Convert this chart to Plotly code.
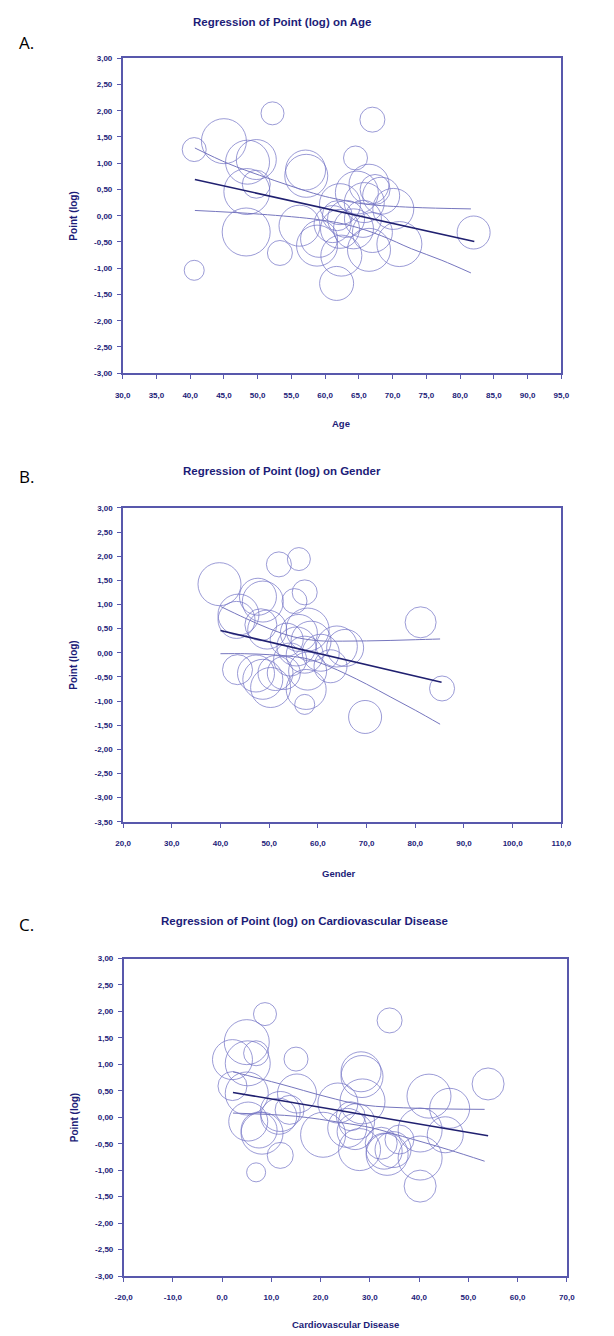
import plotly.graph_objects as go

# ---------------- data ----------------
# Panel A: Age
a_x = [40.6, 45.0, 52.2, 67.0, 64.5, 40.6, 61.7, 53.3, 48.3, 48.4, 48.5, 49.8, 49.8, 57.2, 57.1, 82.0,
       56.2, 58.8, 59.1, 62.4, 62.2, 66.5, 71.0, 70.1, 62.2, 64.7, 66.5, 67.4, 65.8, 65.6, 63.1, 61.1,
       64.2, 67.0, 68.3, 61.8]
a_y = [1.26, 1.42, 1.95, 1.83, 1.10, -1.04, -1.29, -0.71, -0.31, 0.46, 1.02, 1.07, 0.60, 0.76, 0.87, -0.32,
       -0.19, -0.57, -0.44, -0.76, -0.25, -0.65, -0.54, 0.13, 0.22, 0.44, 0.60, 0.50, 0.25, -0.06, -0.06, -0.16,
       -0.25, -0.32, 0.38, 0.00]
a_s = [24, 45, 23, 25, 24, 20, 34, 25, 48, 46, 44, 40, 28, 43, 40, 33,
       41, 41, 37, 41, 39, 43, 45, 41, 41, 43, 40, 30, 40, 37, 37, 37,
       40, 40, 37, 30]
a_fit_x = [40.7, 82.1]
a_fit_y = [0.69, -0.49]
a_up_x = [40.7, 45.7, 50.3, 54.8, 59.3, 62.0, 66.0, 72.8, 81.6]
a_up_y = [1.29, 0.99, 0.77, 0.57, 0.39, 0.31, 0.22, 0.16, 0.13]
a_lo_x = [40.7, 50.3, 59.3, 63.8, 68.3, 72.8, 77.3, 81.6]
a_lo_y = [0.10, 0.03, -0.08, -0.19, -0.38, -0.63, -0.85, -1.09]

# Panel B: Gender
b_x = [39.8, 52.0, 56.1, 57.3, 55.2, 48.7, 47.7, 43.7, 43.3, 48.3, 49.6, 81.1, 85.5, 69.7, 57.3, 43.5,
       47.3, 48.7, 50.3, 51.3, 54.3, 55.6, 56.1, 57.9, 58.6, 57.3, 57.9, 57.6, 60.6, 63.9, 65.6, 62.6,
       53.6, 53.0]
b_y = [1.42, 1.83, 1.94, 1.25, 1.07, 1.06, 1.16, 0.79, 0.68, 0.58, 0.48, 0.63, -0.74, -1.33, -1.07, -0.35,
       -0.43, -0.55, -0.72, -0.42, -0.14, 0.13, 0.41, 0.48, 0.24, -0.04, -0.38, -0.76, 0.00, 0.13, 0.10, -0.28,
       0.27, -0.42]
b_s = [43, 25, 23, 25, 25, 41, 37, 41, 37, 32, 39, 31, 25, 33, 20, 30,
       37, 40, 40, 35, 33, 39, 37, 43, 40, 37, 38, 40, 37, 41, 37, 33,
       33, 33]
b_fit_x = [40.0, 85.4]
b_fit_y = [0.46, -0.61]
b_up_x = [40.0, 45.0, 50.0, 55.0, 60.0, 65.0, 70.0, 75.0, 80.0, 85.1]
b_up_y = [0.96, 0.72, 0.50, 0.33, 0.25, 0.24, 0.245, 0.255, 0.27, 0.285]
b_lo_x = [40.0, 45.0, 50.0, 55.0, 58.0, 62.0, 66.0, 70.0, 75.0, 80.0, 85.1]
b_lo_y = [-0.02, -0.02, -0.04, -0.08, -0.13, -0.27, -0.45, -0.65, -0.92, -1.19, -1.48]

# Panel C: Cardiovascular Disease
c_x = [8.7, 34.0, 15.0, 6.9, 40.2, 11.8, 54.0, 5.0, 2.1, 6.9, 5.2, 2.1, 5.0, 15.2, 28.2, 28.4,
       28.5, 23.5, 42.0, 46.2, 45.3, 40.2, 40.2, 5.3, 7.5, 8.1, 11.8, 11.5, 13.7, 20.5, 25.4, 27.0,
       27.9, 27.3, 32.3, 32.9, 33.5, 34.7, 36.0, 26.1]
c_y = [1.95, 1.83, 1.10, -1.04, -1.30, -0.72, 0.63, 1.42, 1.09, 1.21, 1.02, 0.59, 0.45, 0.45, 0.86, 0.77,
       0.30, 0.27, 0.40, 0.17, -0.33, -0.24, -0.77, -0.08, -0.24, -0.30, 0.11, 0.02, 0.14, -0.33, -0.20, -0.27,
       -0.61, -0.08, -0.49, -0.64, -0.70, -0.61, -0.42, 0.02]
c_s = [23, 25, 24, 19, 32, 26, 32, 45, 40, 25, 45, 29, 43, 39, 40, 42,
       45, 40, 44, 40, 36, 44, 44, 39, 36, 42, 40, 36, 29, 45, 39, 36,
       42, 36, 32, 36, 42, 36, 29, 29]
c_fit_x = [2.2, 54.0]
c_fit_y = [0.47, -0.35]
c_up_x = [2.2, 11.8, 21.1, 28.5, 39.7, 53.3]
c_up_y = [0.86, 0.63, 0.39, 0.235, 0.17, 0.15]
c_lo_x = [2.2, 14.9, 24.2, 30.4, 36.6, 45.9, 53.3]
c_lo_y = [0.08, 0.02, -0.10, -0.20, -0.36, -0.61, -0.83]

# tick values / labels
a_xticks = [30, 35, 40, 45, 50, 55, 60, 65, 70, 75, 80, 85, 90, 95]
a_xtext = ["30,0", "35,0", "40,0", "45,0", "50,0", "55,0", "60,0", "65,0", "70,0", "75,0", "80,0", "85,0", "90,0", "95,0"]
b_xticks = [20, 30, 40, 50, 60, 70, 80, 90, 100, 110]
b_xtext = ["20,0", "30,0", "40,0", "50,0", "60,0", "70,0", "80,0", "90,0", "100,0", "110,0"]
c_xticks = [-20, -10, 0, 10, 20, 30, 40, 50, 60, 70]
c_xtext = ["-20,0", "-10,0", "0,0", "10,0", "20,0", "30,0", "40,0", "50,0", "60,0", "70,0"]
y_ticks = [3, 2.5, 2, 1.5, 1, 0.5, 0, -0.5, -1, -1.5, -2, -2.5, -3]
y_text = ["3,00", "2,50", "2,00", "1,50", "1,00", "0,50", "0,00", "-0,50", "-1,00", "-1,50", "-2,00", "-2,50", "-3,00"]
b_yticks = y_ticks + [-3.5]
b_ytext = y_text + ["-3,50"]

titles = ["Regression of Point (log) on Age", "Regression of Point (log) on Gender",
          "Regression of Point (log) on Cardiovascular Disease"]
xlabels = ["Age", "Gender", "Cardiovascular Disease"]
letters = ["A.", "B.", "C."]

# ---------------- styling ----------------
W, H = 614, 1336
CIRC = "rgb(112,112,196)"
BAND = "rgb(118,118,190)"
FIT = "rgb(32,32,112)"
AXC = "rgb(88,88,172)"
TXT = "rgb(28,28,120)"
FONT = "Liberation Sans, Arial, sans-serif"

fig = go.Figure()

panels = [
    dict(x=a_x, y=a_y, s=a_s, fx=a_fit_x, fy=a_fit_y, ux=a_up_x, uy=a_up_y, lx=a_lo_x, ly=a_lo_y,
         xr=[30, 95], xt=a_xticks, xtt=a_xtext, yr=[-3, 3], yt=y_ticks, ytt=y_text,
         box=(117.3, 570.0, 54.6, 371.7), title=(282, 18), xl=(343, 422), let=(8, 39)),
    dict(x=b_x, y=b_y, s=b_s, fx=b_fit_x, fy=b_fit_y, ux=b_up_x, uy=b_up_y, lx=b_lo_x, ly=b_lo_y,
         xr=[20, 110], xt=b_xticks, xtt=b_xtext, yr=[-3.5, 3], yt=b_yticks, ytt=b_ytext,
         box=(117.7, 570.0, 507.3, 823.3), title=(282, 470.5), xl=(341, 875), let=(8, 476)),
    dict(x=c_x, y=c_y, s=c_s, fx=c_fit_x, fy=c_fit_y, ux=c_up_x, uy=c_up_y, lx=c_lo_x, ly=c_lo_y,
         xr=[-20, 70], xt=c_xticks, xtt=c_xtext, yr=[-3, 3], yt=y_ticks, ytt=y_text,
         box=(118.3, 575.7, 961.0, 1280.7), title=(305, 923.3), xl=(347, 1329), let=(8, 927)),
]

annotations = []
for i, p in enumerate(panels):
    n = "" if i == 0 else str(i + 1)
    xa, ya = "x" + n, "y" + n
    fig.add_trace(go.Scatter(x=p["x"], y=p["y"], mode="markers", xaxis=xa, yaxis=ya,
                             marker=dict(symbol="circle-open", size=p["s"], color=CIRC,
                                         line=dict(width=1, color=CIRC)),
                             showlegend=False, hoverinfo="skip"))
    fig.add_trace(go.Scatter(x=p["ux"], y=p["uy"], mode="lines", xaxis=xa, yaxis=ya,
                             line=dict(color=BAND, width=1, shape="spline"), showlegend=False))
    fig.add_trace(go.Scatter(x=p["lx"], y=p["ly"], mode="lines", xaxis=xa, yaxis=ya,
                             line=dict(color=BAND, width=1, shape="spline"), showlegend=False))
    fig.add_trace(go.Scatter(x=p["fx"], y=p["fy"], mode="lines", xaxis=xa, yaxis=ya,
                             line=dict(color=FIT, width=1.6), showlegend=False))

    x0, x1, y0, y1 = p["box"]
    common = dict(showline=True, linecolor=AXC, linewidth=1.5, mirror=True, showgrid=False,
                  zeroline=False, ticks="outside", ticklen=4, tickwidth=1, tickcolor=AXC,
                  tickfont=dict(family=FONT, size=8, color=TXT, weight="bold"))
    fig.update_layout(**{
        "xaxis" + n: dict(domain=[x0 / W, x1 / W], range=p["xr"], tickvals=p["xt"], ticktext=p["xtt"],
                          anchor=ya, ticklabelstandoff=9, **common),
        "yaxis" + n: dict(domain=[1 - y1 / H, 1 - y0 / H], range=p["yr"], tickvals=p["yt"], ticktext=p["ytt"],
                          anchor=xa, ticklabelstandoff=3, **common),
    })
    tx, ty = p["title"]
    annotations.append(dict(text="<b>" + titles[i] + "</b>", x=tx / W, y=1 - ty / H, xref="paper", yref="paper",
                            showarrow=False, xanchor="center", yanchor="middle",
                            font=dict(family=FONT, size=11.5, color=TXT)))
    lx, ly = p["xl"]
    annotations.append(dict(text="<b>" + xlabels[i] + "</b>", x=lx / W, y=1 - ly / H, xref="paper", yref="paper",
                            showarrow=False, xanchor="center", yanchor="middle",
                            font=dict(family=FONT, size=9.5, color=TXT)))
    annotations.append(dict(text="<b>Point (log)</b>", x=67 / W, y=1 - ((y0 + y1) / 2) / H, xref="paper",
                            yref="paper", showarrow=False, textangle=-90, xanchor="center", yanchor="middle",
                            font=dict(family=FONT, size=10, color=TXT)))
    ex, ey = p["let"]
    annotations.append(dict(text=letters[i], x=ex / W, y=1 - ey / H, xref="paper", yref="paper",
                            showarrow=False, xanchor="left", yanchor="middle",
                            font=dict(family="Open Sans, Noto Sans, sans-serif", size=17, color="black")))

fig.update_layout(width=W, height=H, margin=dict(l=0, r=0, t=0, b=0), paper_bgcolor="white",
                  plot_bgcolor="white", annotations=annotations, showlegend=False)

fig.write_html("out.html", config={"displayModeBar": False},
               post_script="document.body.style.margin='0px';document.body.style.overflow='hidden';")
